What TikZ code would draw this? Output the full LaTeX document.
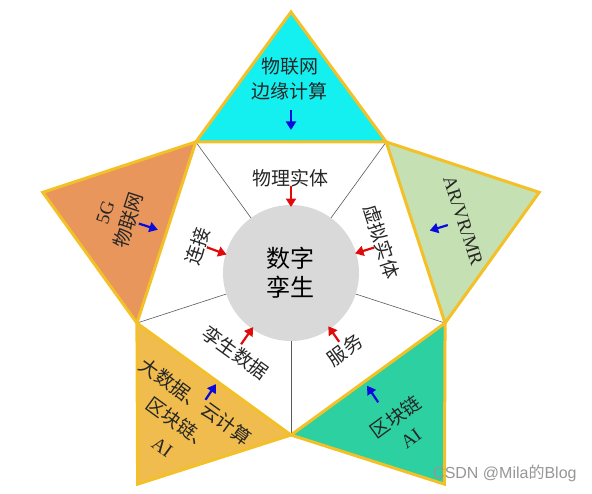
\documentclass[tikz,border=0pt]{standalone}
\usepackage{fontspec}
\setmainfont{Liberation Serif}
\newfontfamily\cjk{Noto Sans CJK SC}
\newfontfamily\wmfont{Liberation Sans}
\usetikzlibrary{arrows.meta}
\definecolor{goldline}{RGB}{244,192,40}
\definecolor{cyanfill}{RGB}{20,240,240}
\definecolor{orangefill}{RGB}{232,150,92}
\definecolor{greenfill}{RGB}{197,224,178}
\definecolor{goldfill}{RGB}{240,188,78}
\definecolor{tealfill}{RGB}{45,208,160}
\definecolor{coregrey}{RGB}{217,217,217}
\definecolor{divgrey}{RGB}{90,90,90}
\definecolor{arrred}{RGB}{225,10,10}
\definecolor{arrblue}{RGB}{10,10,220}
\definecolor{wmgrey}{RGB}{150,150,150}
\begin{document}
\begin{tikzpicture}[x=1pt,y=1pt,
  petal/.style={draw=goldline,line width=3pt,line join=miter},
  divider/.style={draw=divgrey,line width=0.6pt},
  redarr/.style={draw=arrred,line width=2.2pt,-{Triangle[length=8.5pt,width=10pt]}},
  bluearr/.style={draw=arrblue,line width=2.2pt,-{Triangle[length=8.5pt,width=10pt]}},
  lbl/.style={inner sep=0pt,align=center,font=\cjk\fontsize{19}{25}\selectfont,text=black!85},
  corelbl/.style={circle,fill=coregrey,minimum size=136pt,inner sep=0pt,align=center,font=\cjk\fontsize{24}{29}\selectfont}]
\useasboundingbox (-291,-220) rectangle (301,273);
% pentagon vertices
\coordinate (P1) at (126:162);
\coordinate (P2) at (54:162);
\coordinate (P3) at (-18:162);
\coordinate (P4) at (-90:162);
\coordinate (P5) at (198:162);
% apexes
\coordinate (A1) at (90:261);
\coordinate (A2) at (18:261);
\coordinate (A3) at (306:261);
\coordinate (A4) at (234:261);
\coordinate (A5) at (162:261);
% pentagon
\fill[white] (P1) -- (P2) -- (P3) -- (P4) -- (P5) -- cycle;
\draw[divider] (0,0) -- (P1);
\draw[divider] (0,0) -- (P2);
\draw[divider] (0,0) -- (P3);
\draw[divider] (0,0) -- (P4);
\draw[divider] (0,0) -- (P5);
% triangles
\filldraw[petal,fill=cyanfill] (P1) -- (A1) -- (P2) -- cycle;
\filldraw[petal,fill=greenfill] (P2) -- (A2) -- (P3) -- cycle;
\filldraw[petal,fill=tealfill] (P3) -- (A3) -- (P4) -- cycle;
\filldraw[petal,fill=goldfill] (P4) -- (A4) -- (P5) -- cycle;
\filldraw[petal,fill=orangefill] (P5) -- (A5) -- (P1) -- cycle;
% core
\node[corelbl] (core) at (0,0) {数字\\孪生};
% inner labels
\node[lbl] (phys) at (90:95) {物理实体};
\node[lbl,rotate=-72] (virt) at (19:96) {虚拟实体};
\node[lbl,rotate=36] (serv) at (305:94) {服务};
\node[lbl,rotate=-36] (data) at (235:97) {孪生数据};
\node[lbl,rotate=72] (conn) at (164:97) {连接};
% outer labels
\node[lbl] (iot) at (-1,194) {物联网\\边缘计算};
\node[lbl,rotate=-72,font=\fontsize{19}{25}\selectfont] (ar) at (17:180) {AR/VR/MR};
\node[lbl,rotate=36] (chain) at (306:190) {区块链\\{\rmfamily AI}};
\node[lbl,rotate=-36,font=\cjk\fontsize{19}{28}\selectfont] (big) at (233.5:187) {大数据、云计算\\区块链、\\{\rmfamily AI}};
\node[lbl,rotate=72] (fiveg) at (162:182) {{\rmfamily 5G}\\物联网};
% red arrows
\coordinate (r1s) at (90:87);  \coordinate (r1e) at (90:66);
\coordinate (r2s) at (17:87);  \coordinate (r2e) at (17:67);
\coordinate (r3s) at (305:84); \coordinate (r3e) at (305:65);
\coordinate (r4s) at (235:87); \coordinate (r4e) at (235:66);
\coordinate (r5s) at (163:88); \coordinate (r5e) at (164:67);
\draw[redarr] (r1s) -- (r1e);
\draw[redarr] (r2s) -- (r2e);
\draw[redarr] (r3s) -- (r3e);
\draw[redarr] (r4s) -- (r4e);
\draw[redarr] (r5s) -- (r5e);
% blue arrows
\coordinate (b1s) at (90:163);  \coordinate (b1e) at (90:143);
\coordinate (b2s) at (17:164);  \coordinate (b2e) at (17:145);
\coordinate (b3s) at (304:156); \coordinate (b3e) at (304:136);
\coordinate (b4s) at (236:153); \coordinate (b4e) at (236:134);
\coordinate (b5s) at (162:160); \coordinate (b5e) at (162:140);
\draw[bluearr] (b1s) -- (b1e);
\draw[bluearr] (b2s) -- (b2e);
\draw[bluearr] (b3s) -- (b3e);
\draw[bluearr] (b4s) -- (b4e);
\draw[bluearr] (b5s) -- (b5e);
% watermark
\node[anchor=west,inner sep=0pt,text=wmgrey,font=\wmfont\fontsize{16}{16}\selectfont] (wm) at (142,-200) {CSDN @Mila{\cjk 的}Blog};
\end{tikzpicture}
\end{document}
